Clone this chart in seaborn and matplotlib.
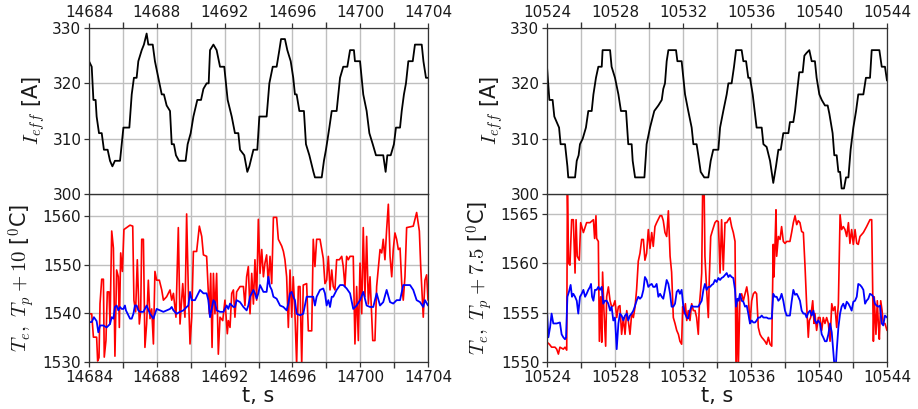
import numpy as np
import pandas as pd
import matplotlib
matplotlib.use("Agg")
import matplotlib.pyplot as plt
import matplotlib.ticker as mticker
import seaborn as sns

# ---------------- data ----------------
T0_A = 14684
T0_B = 10524

# top-left: I_eff (time offsets in s from T0_A)
ieff_a_t = [0, 0.16, 0.26, 0.39, 0.45, 0.59, 0.75, 0.88, 1.10, 1.24, 1.38, 1.53, 1.83, 2.03, 2.38, 2.52, 2.65, 2.81,
            2.91, 3.11, 3.24, 3.40, 3.50, 3.76, 3.89, 4.09, 4.29, 4.42, 4.58, 4.78, 4.88, 5.01, 5.13, 5.31, 5.70, 5.82,
            6.00, 6.16, 6.39, 6.61, 6.75, 6.94, 7.06, 7.14, 7.34, 7.53, 7.73, 7.98, 8.18, 8.42, 8.61, 8.81, 8.91, 9.16,
            9.34, 9.46, 9.70, 9.93, 10.05, 10.48, 10.64, 10.84, 11.07, 11.23, 11.33, 11.56, 11.70, 11.90, 12.05, 12.15,
            12.25, 12.41, 12.68, 12.80, 13.00, 13.24, 13.33, 13.73, 13.86, 13.98, 14.18, 14.32, 14.61, 14.81, 15.00,
            15.24, 15.40, 15.63, 15.69, 15.99, 16.18, 16.38, 16.54, 16.74, 16.93, 17.36, 17.50, 17.60, 17.80, 17.99,
            18.11, 18.35, 18.45, 18.58, 18.70, 18.84, 19.10, 19.23, 19.63, 19.73, 19.88, 20.00]
ieff_a = [324, 323, 317, 317, 314, 311, 311, 308, 308, 306, 305, 306, 306, 312, 312, 318, 321, 321, 324, 326, 327, 329,
          327, 327, 324, 321, 318, 318, 316, 315, 309, 309, 307, 306, 306, 309, 311, 314, 317, 317, 319, 320, 320, 326,
          327, 326, 323, 323, 317, 314, 311, 311, 308, 307, 304, 305, 308, 308, 314, 314, 320, 323, 323, 326, 328, 328,
          326, 324, 321, 318, 318, 315, 315, 309, 307, 304, 303, 303, 306, 308, 312, 315, 315, 321, 323, 323, 326, 326,
          324, 324, 318, 315, 311, 309, 307, 307, 304, 307, 307, 309, 312, 312, 315, 318, 320, 324, 324, 327, 327, 324,
          321, 321]

# top-right: I_eff (time offsets in s from T0_B)
ieff_b_t = [0, 0.14, 0.33, 0.43, 0.57, 0.71, 0.80, 1.06, 1.20, 1.25, 1.65, 1.75, 1.86, 1.94, 2.10, 2.29, 2.43, 2.63,
            2.73, 2.88, 3.02, 3.22, 3.27, 3.71, 3.80, 4.00, 4.20, 4.35, 4.65, 4.78, 4.98, 5.04, 5.18, 5.73, 5.86, 6.06,
            6.31, 6.55, 6.75, 6.84, 6.94, 7.04, 7.14, 7.59, 7.67, 7.92, 8.02, 8.12, 8.31, 8.51, 8.61, 8.80, 8.90, 9.04,
            9.25, 9.49, 9.63, 9.78, 10.08, 10.18, 10.37, 10.57, 10.67, 10.86, 11.00, 11.12, 11.45, 11.55, 11.71, 11.84,
            11.94, 12.10, 12.33, 12.63, 12.73, 12.92, 13.12, 13.31, 13.47, 13.61, 13.75, 13.90, 14.20, 14.29, 14.49,
            14.59, 14.73, 14.84, 15.04, 15.14, 15.27, 15.43, 15.57, 15.76, 15.86, 16.02, 16.16, 16.35, 16.51, 16.61,
            16.80, 16.90, 17.04, 17.14, 17.24, 17.33, 17.47, 17.59, 17.73, 17.86, 18.02, 18.18, 18.31, 18.61, 18.76,
            19.00, 19.10, 19.55, 19.69, 19.88, 20.00]
ieff_b = [323, 317, 317, 314, 313, 312, 309, 309, 305, 303, 303, 306, 307, 309, 310, 312, 315, 315, 318, 321, 323, 323,
          326, 326, 323, 321, 318, 315, 315, 309, 309, 306, 303, 303, 309, 312, 315, 316, 317, 319, 320, 324, 326, 326,
          324, 324, 321, 318, 315, 312, 309, 309, 307, 304, 303, 303, 306, 308, 308, 312, 315, 318, 320, 320, 323, 326,
          326, 324, 324, 321, 321, 318, 312, 312, 309, 308.5, 306, 302, 305, 308, 308, 311, 311, 313, 313, 315, 319,
          322, 322, 325, 325.5, 326, 324, 324, 321, 318, 317, 316, 316, 314.5, 311, 307, 307, 304, 304, 301, 301, 303,
          303, 308, 312, 315, 318, 318, 321, 321, 326, 326, 323, 323, 320.5]

# bottom-left: T_e (red) and T_p + 10 (blue)
te_a_t = [0, 0.16, 0.26, 0.45, 0.51, 0.59, 0.65, 0.75, 0.85, 0.90, 1.00, 1.08, 1.18, 1.24, 1.34, 1.44, 1.53, 1.63, 1.73,
          1.79, 1.87, 1.97, 2.06, 2.22, 2.42, 2.58, 2.65, 2.75, 2.85, 2.97, 3.05, 3.11, 3.21, 3.30, 3.40, 3.50, 3.60,
          3.70, 3.80, 3.89, 3.99, 4.15, 4.29, 4.39, 4.58, 4.78, 4.88, 4.98, 5.13, 5.27, 5.37, 5.53, 5.66, 5.76, 5.86,
          5.96, 6.06, 6.16, 6.35, 6.51, 6.65, 6.75, 6.94, 7.10, 7.18, 7.26, 7.34, 7.43, 7.53, 7.63, 7.73, 7.89, 8.02,
          8.16, 8.22, 8.32, 8.42, 8.52, 8.61, 8.71, 8.91, 9.01, 9.11, 9.20, 9.30, 9.40, 9.50, 9.60, 9.70, 9.79, 9.89,
          9.99, 10.09, 10.19, 10.29, 10.38, 10.48, 10.58, 10.68, 10.78, 10.88, 11.07, 11.17, 11.37, 11.47, 11.56,
          11.66, 11.76, 11.86, 11.96, 12.05, 12.15, 12.25, 12.35, 12.45, 12.55, 12.64, 12.84, 12.94, 13.14, 13.23,
          13.33, 13.43, 13.63, 13.82, 13.92, 14.02, 14.12, 14.22, 14.32, 14.41, 14.51, 14.61, 14.77, 14.91, 15.00,
          15.10, 15.20, 15.30, 15.40, 15.59, 15.69, 15.79, 15.89, 15.99, 16.09, 16.18, 16.28, 16.38, 16.48, 16.58,
          16.74, 16.87, 16.97, 17.17, 17.27, 17.36, 17.46, 17.56, 17.66, 17.76, 17.86, 17.95, 18.05, 18.15, 18.25,
          18.35, 18.45, 18.54, 18.64, 18.74, 19.13, 19.23, 19.33, 19.49, 19.57, 19.72, 19.82, 19.92, 20.00]
te_a = [1539.9, 1539.9, 1535.1, 1535.1, 1530.2, 1530.9, 1542.0, 1547.0, 1547.0, 1531.0, 1534.4, 1544.4, 1544.4, 1537.8,
        1556.9, 1553.4, 1531.2, 1548.9, 1547.5, 1537.1, 1552.4, 1548.6, 1557.2, 1557.6, 1558.1, 1557.9, 1542.7, 1540.3,
        1551.0, 1537.8, 1540.6, 1555.2, 1555.2, 1533.0, 1537.8, 1546.8, 1538.9, 1540.9, 1533.7, 1548.6, 1546.8, 1546.8,
        1544.8, 1542.7, 1543.4, 1544.8, 1542.7, 1544.1, 1539.2, 1557.6, 1537.8, 1546.1, 1539.2, 1560.4, 1544.8, 1533.7,
        1539.2, 1552.7, 1552.7, 1557.9, 1555.8, 1552.0, 1551.7, 1539.9, 1548.2, 1533.0, 1548.2, 1539.9, 1548.2, 1531.6,
        1539.2, 1538.5, 1542.7, 1535.8, 1538.5, 1537.1, 1544.1, 1544.8, 1539.2, 1544.4, 1545.5, 1545.5, 1545.5, 1541.6,
        1547.5, 1549.6, 1539.9, 1548.2, 1541.9, 1551.0, 1542.7, 1559.3, 1548.2, 1553.1, 1547.5, 1550.3, 1552.0, 1546.1,
        1551.7, 1546.1, 1559.7, 1559.7, 1555.2, 1553.8, 1552.7, 1551.0, 1547.5, 1537.1, 1548.9, 1539.2, 1547.5, 1539.9,
        1529.5, 1545.5, 1545.5, 1529.5, 1545.8, 1546.1, 1536.4, 1536.4, 1555.2, 1549.6, 1555.2, 1555.2, 1551.3, 1546.1,
        1546.8, 1551.7, 1544.8, 1548.9, 1545.5, 1544.8, 1551.0, 1551.0, 1551.7, 1549.6, 1545.5, 1551.7, 1551.0, 1551.7,
        1551.7, 1533.7, 1545.5, 1534.4, 1550.3, 1539.9, 1557.6, 1543.4, 1555.8, 1541.9, 1547.5, 1534.4, 1534.4, 1545.5,
        1553.1, 1552.4, 1555.2, 1551.0, 1557.2, 1562.4, 1551.7, 1547.5, 1553.1, 1556.5, 1555.2, 1553.1, 1553.4, 1546.1,
        1542.7, 1547.5, 1557.6, 1557.9, 1559.3, 1560.7, 1556.9, 1549.6, 1539.2, 1546.8, 1547.9, 1542.7]
tp_a_t = [0, 0.16, 0.29, 0.45, 0.55, 0.65, 0.85, 1.04, 1.24, 1.34, 1.44, 1.53, 1.63, 1.73, 1.83, 1.93, 2.03, 2.12, 2.18,
          2.32, 2.42, 2.52, 2.62, 2.71, 2.81, 2.91, 3.01, 3.21, 3.40, 3.60, 3.80, 3.99, 4.19, 4.39, 4.58, 4.78, 4.88,
          4.98, 5.17, 5.37, 5.57, 5.76, 5.86, 5.96, 6.06, 6.25, 6.35, 6.55, 6.75, 6.94, 7.04, 7.14, 7.34, 7.43, 7.53,
          7.73, 7.93, 8.12, 8.22, 8.32, 8.52, 8.61, 8.71, 8.91, 9.11, 9.30, 9.40, 9.50, 9.70, 9.79, 9.89, 9.99, 10.09,
          10.29, 10.48, 10.58, 10.68, 10.78, 10.88, 11.07, 11.27, 11.47, 11.66, 11.76, 11.86, 11.96, 12.05, 12.15,
          12.25, 12.45, 12.64, 12.84, 13.04, 13.23, 13.33, 13.43, 13.63, 13.82, 13.92, 14.02, 14.12, 14.22, 14.32,
          14.41, 14.61, 14.81, 15.00, 15.20, 15.40, 15.59, 15.79, 15.99, 16.18, 16.38, 16.58, 16.77, 16.97, 17.17,
          17.36, 17.56, 17.76, 17.95, 18.15, 18.35, 18.54, 18.74, 18.94, 19.13, 19.33, 19.53, 19.72, 19.82, 20.00]
tp_a = [1538.2, 1538.2, 1539.2, 1538.4, 1536.1, 1537.5, 1537.5, 1537.1, 1537.8, 1539.2, 1538.9, 1541.3, 1541.6, 1540.6,
        1541.3, 1540.9, 1540.9, 1541.6, 1540.6, 1539.6, 1538.9, 1538.9, 1539.9, 1541.6, 1541.6, 1540.6, 1540.3, 1540.3,
        1541.6, 1539.9, 1538.9, 1540.9, 1540.6, 1540.3, 1540.6, 1540.9, 1541.3, 1540.6, 1539.9, 1540.3, 1540.6, 1541.3,
        1541.6, 1544.4, 1542.7, 1542.7, 1543.4, 1544.8, 1544.1, 1544.1, 1542.7, 1539.2, 1542.7, 1542.3, 1540.6, 1540.3,
        1540.3, 1541.6, 1540.9, 1542.0, 1541.3, 1541.3, 1542.7, 1542.3, 1541.3, 1540.6, 1541.6, 1543.4, 1544.8, 1544.1,
        1543.0, 1544.1, 1545.8, 1544.4, 1544.4, 1547.5, 1545.5, 1544.8, 1543.4, 1543.0, 1541.6, 1541.3, 1540.6, 1542.0,
        1544.1, 1544.4, 1543.4, 1542.7, 1539.9, 1539.6, 1539.9, 1543.4, 1543.4, 1543.4, 1541.6, 1543.4, 1544.8, 1545.1,
        1544.1, 1541.6, 1542.7, 1541.3, 1543.4, 1543.4, 1544.8, 1545.8, 1545.8, 1545.1, 1544.1, 1540.9, 1541.6, 1542.7,
        1544.4, 1541.6, 1541.3, 1541.3, 1544.1, 1541.6, 1542.3, 1544.8, 1542.3, 1542.0, 1542.7, 1542.7, 1545.8, 1545.8,
        1545.8, 1544.8, 1542.7, 1542.3, 1541.3, 1542.7, 1541.6]

# bottom-right: T_e (red) and T_p + 7.5 (blue)
te_b_t = [0, 0.14, 0.27, 0.47, 0.57, 0.67, 0.76, 0.96, 1.06, 1.16, 1.20, 1.27, 1.35, 1.45, 1.55, 1.65, 1.71, 1.78, 1.90,
          1.98, 2.14, 2.33, 2.53, 2.73, 2.80, 2.88, 2.92, 3.02, 3.08, 3.16, 3.22, 3.27, 3.35, 3.45, 3.51, 3.61, 3.71,
          3.80, 3.90, 4.00, 4.10, 4.20, 4.29, 4.39, 4.49, 4.59, 4.69, 4.78, 4.88, 4.98, 5.08, 5.18, 5.27, 5.37, 5.47,
          5.57, 5.67, 5.76, 5.86, 5.96, 6.06, 6.16, 6.25, 6.35, 6.45, 6.65, 6.75, 6.84, 6.94, 7.04, 7.14, 7.24, 7.33,
          7.43, 7.53, 7.63, 7.73, 7.82, 7.92, 7.98, 8.06, 8.14, 8.22, 8.31, 8.41, 8.51, 8.61, 8.71, 8.80, 8.90, 8.96,
          9.04, 9.10, 9.16, 9.24, 9.29, 9.39, 9.49, 9.55, 9.63, 9.75, 9.88, 9.98, 10.08, 10.18, 10.27, 10.37, 10.47,
          10.57, 10.67, 10.76, 10.86, 10.96, 11.06, 11.12, 11.20, 11.25, 11.35, 11.45, 11.55, 11.65, 11.75, 11.84,
          11.94, 12.04, 12.14, 12.24, 12.33, 12.43, 12.53, 12.63, 12.73, 12.82, 12.92, 13.02, 13.12, 13.22, 13.31,
          13.35, 13.41, 13.47, 13.51, 13.61, 13.71, 13.80, 13.90, 14.00, 14.10, 14.29, 14.39, 14.49, 14.59, 14.69,
          14.78, 14.88, 14.98, 15.08, 15.18, 15.27, 15.37, 15.43, 15.51, 15.63, 15.71, 15.76, 15.86, 15.96, 16.06,
          16.16, 16.25, 16.35, 16.45, 16.55, 16.65, 16.75, 16.84, 16.94, 17.04, 17.14, 17.24, 17.33, 17.43, 17.53,
          17.63, 17.73, 17.82, 17.92, 18.02, 18.12, 18.22, 18.31, 18.41, 18.61, 18.80, 19.00, 19.10, 19.20, 19.25,
          19.35, 19.43, 19.49, 19.55, 19.63, 19.71, 19.78, 19.88, 20.00]
te_b = [1552.0, 1551.8, 1551.5, 1551.5, 1551.3, 1550.8, 1551.5, 1551.3, 1551.5, 1551.2, 1568.0, 1560.0, 1559.8, 1564.4,
        1564.4, 1559.0, 1564.4, 1560.7, 1560.3, 1564.1, 1563.1, 1564.1, 1564.1, 1564.4, 1562.5, 1564.8, 1562.5, 1562.2,
        1552.1, 1556.6, 1552.0, 1559.1, 1555.2, 1551.6, 1556.6, 1557.6, 1556.2, 1555.6, 1555.7, 1556.2, 1554.5, 1555.6,
        1555.7, 1552.8, 1554.5, 1552.8, 1555.2, 1554.2, 1552.8, 1554.9, 1554.5, 1555.6, 1557.3, 1560.2, 1561.0, 1562.4,
        1562.4, 1560.3, 1561.0, 1563.4, 1561.5, 1563.1, 1561.7, 1563.7, 1564.1, 1564.8, 1564.8, 1564.3, 1563.1, 1562.7,
        1565.3, 1560.7, 1559.1, 1554.5, 1553.9, 1553.2, 1552.8, 1552.1, 1551.8, 1555.6, 1554.9, 1555.9, 1554.2, 1555.2,
        1554.2, 1555.9, 1555.2, 1555.2, 1554.5, 1552.8, 1555.7, 1557.3, 1559.0, 1568.0, 1568.0, 1560.7, 1557.3, 1554.5,
        1558.6, 1562.7, 1563.4, 1564.1, 1564.3, 1564.2, 1559.0, 1564.4, 1559.3, 1564.1, 1564.1, 1564.4, 1564.6, 1563.7,
        1563.1, 1562.2, 1549.1, 1556.2, 1549.1, 1556.6, 1556.9, 1556.2, 1556.9, 1557.6, 1556.6, 1553.9, 1556.2, 1556.9,
        1557.1, 1556.9, 1553.5, 1552.8, 1552.5, 1552.3, 1552.1, 1551.8, 1552.5, 1551.8, 1551.6, 1561.9, 1558.6, 1561.7,
        1565.4, 1560.7, 1562.7, 1562.4, 1563.7, 1562.2, 1562.0, 1562.2, 1562.2, 1563.1, 1564.1, 1564.8, 1563.9, 1564.3,
        1564.1, 1563.2, 1563.1, 1559.6, 1555.9, 1552.5, 1554.2, 1554.5, 1556.2, 1553.9, 1554.9, 1553.2, 1554.5, 1554.5,
        1553.2, 1554.5, 1553.9, 1554.5, 1553.9, 1552.1, 1555.9, 1555.2, 1555.6, 1553.5, 1555.9, 1564.9, 1563.4, 1563.7,
        1563.4, 1562.7, 1564.1, 1562.0, 1563.4, 1561.9, 1563.4, 1562.0, 1561.9, 1562.7, 1563.1, 1563.7, 1564.4, 1564.4,
        1552.1, 1556.6, 1552.8, 1556.2, 1553.9, 1552.3, 1556.2, 1555.2, 1553.9, 1553.9, 1553.2]
tp_b_t = [0, 0.08, 0.18, 0.27, 0.37, 0.47, 0.57, 0.76, 0.86, 0.96, 1.06, 1.12, 1.20, 1.29, 1.39, 1.47, 1.55, 1.65, 1.75,
          1.84, 1.94, 2.04, 2.14, 2.24, 2.33, 2.43, 2.53, 2.59, 2.65, 2.73, 2.82, 2.92, 3.02, 3.12, 3.22, 3.31, 3.41,
          3.51, 3.61, 3.71, 3.80, 3.90, 4.00, 4.10, 4.20, 4.29, 4.39, 4.49, 4.59, 4.69, 4.78, 4.88, 4.98, 5.08, 5.18,
          5.27, 5.37, 5.47, 5.57, 5.67, 5.76, 5.86, 5.96, 6.06, 6.16, 6.25, 6.35, 6.45, 6.55, 6.65, 6.75, 6.84, 6.94,
          7.04, 7.14, 7.24, 7.33, 7.43, 7.53, 7.63, 7.73, 7.82, 7.92, 8.02, 8.12, 8.22, 8.31, 8.41, 8.51, 8.61, 8.71,
          8.80, 8.90, 9.00, 9.10, 9.20, 9.29, 9.39, 9.49, 9.59, 9.69, 9.78, 9.88, 9.98, 10.08, 10.18, 10.27, 10.37,
          10.47, 10.57, 10.67, 10.76, 10.86, 10.96, 11.06, 11.12, 11.20, 11.27, 11.35, 11.45, 11.55, 11.65, 11.75,
          11.84, 11.94, 12.04, 12.14, 12.24, 12.33, 12.43, 12.53, 12.63, 12.73, 12.82, 12.92, 13.02, 13.12, 13.22,
          13.31, 13.41, 13.51, 13.61, 13.71, 13.80, 13.90, 14.00, 14.10, 14.20, 14.29, 14.39, 14.49, 14.59, 14.69,
          14.78, 14.88, 14.98, 15.08, 15.18, 15.27, 15.37, 15.47, 15.57, 15.67, 15.76, 15.86, 15.96, 16.06, 16.16,
          16.25, 16.35, 16.45, 16.55, 16.65, 16.75, 16.84, 16.90, 16.98, 17.04, 17.14, 17.24, 17.33, 17.43, 17.53,
          17.63, 17.73, 17.82, 17.92, 18.02, 18.12, 18.22, 18.31, 18.41, 18.51, 18.61, 18.71, 18.80, 18.90, 19.00,
          19.10, 19.20, 19.29, 19.39, 19.49, 19.59, 19.69, 19.78, 19.88, 20.00]
tp_b = [1555.2, 1552.5, 1553.5, 1554.9, 1553.9, 1553.9, 1553.9, 1554.0, 1552.8, 1552.5, 1552.3, 1552.5, 1556.6, 1557.1,
        1557.8, 1556.6, 1556.9, 1556.6, 1556.2, 1554.9, 1556.6, 1556.9, 1557.3, 1556.6, 1556.9, 1557.3, 1557.6, 1557.9,
        1556.6, 1556.2, 1557.3, 1557.3, 1557.6, 1557.3, 1557.6, 1555.9, 1556.2, 1556.2, 1555.9, 1555.2, 1555.6, 1554.2,
        1554.5, 1551.3, 1553.9, 1554.9, 1554.7, 1554.2, 1554.7, 1554.9, 1554.2, 1554.7, 1554.9, 1555.2, 1555.7, 1556.2,
        1556.6, 1556.4, 1556.6, 1557.3, 1558.6, 1558.3, 1557.6, 1557.8, 1557.9, 1557.6, 1557.6, 1557.9, 1556.6, 1556.9,
        1556.6, 1556.4, 1557.3, 1558.3, 1557.9, 1556.9, 1555.6, 1555.6, 1555.9, 1557.1, 1557.3, 1556.9, 1557.3, 1555.6,
        1554.9, 1554.5, 1554.4, 1555.2, 1555.7, 1555.6, 1555.6, 1555.6, 1555.6, 1555.9, 1556.2, 1557.3, 1557.9, 1557.3,
        1557.6, 1557.6, 1557.8, 1557.9, 1558.3, 1558.1, 1558.5, 1558.3, 1558.5, 1558.6, 1558.8, 1559.0, 1558.6, 1558.8,
        1558.6, 1558.5, 1557.3, 1555.6, 1556.4, 1556.2, 1556.9, 1556.2, 1556.1, 1555.6, 1555.7, 1554.9, 1553.9, 1554.2,
        1554.0, 1554.0, 1554.2, 1554.5, 1554.5, 1554.7, 1554.5, 1554.5, 1554.5, 1554.4, 1554.4, 1554.4, 1556.9, 1556.6,
        1556.6, 1556.2, 1556.4, 1556.9, 1556.2, 1555.2, 1554.7, 1554.7, 1554.7, 1556.1, 1557.3, 1556.8, 1556.9, 1556.6,
        1556.2, 1555.2, 1554.9, 1554.9, 1554.5, 1555.0, 1555.2, 1554.7, 1555.2, 1554.2, 1553.9, 1554.2, 1553.9, 1552.8,
        1552.5, 1552.1, 1552.1, 1552.8, 1553.9, 1553.0, 1551.1, 1549.8, 1549.4, 1551.1, 1553.5, 1554.9, 1555.6, 1555.9,
        1555.4, 1556.1, 1555.9, 1555.6, 1555.2, 1556.1, 1556.2, 1556.6, 1557.9, 1557.8, 1557.6, 1557.3, 1555.9, 1556.2,
        1556.4, 1556.9, 1556.8, 1556.6, 1555.9, 1555.7, 1555.6, 1555.7, 1553.9, 1553.7, 1554.7, 1554.5]

xticks_a = [14684, 14688, 14692, 14696, 14700, 14704]
xticks_b = [10524, 10528, 10532, 10536, 10540, 10544]
xgrid_a = [14686, 14690, 14694, 14698, 14702]
xgrid_b = [10526, 10530, 10534, 10538, 10542]
yticks_top = [300, 310, 320, 330]
yticks_bot_a = [1530, 1540, 1550, 1560]
yticks_bot_b = [1550, 1555, 1560, 1565]
ylabel_top = r'$I_{eff}$ [A]'
ylabel_bot_a = r'$T_e,\ T_p+10$ [$^0$C]'
ylabel_bot_b = r'$T_e,\ T_p+7.5$ [$^0$C]'
xlabel = 't, s'

GRID_C = '0.75'
GRID_W = 1.0

# ---------------- style ----------------
sns.set_theme(style="whitegrid", rc={
    "axes.edgecolor": "0.2",
    "axes.linewidth": 0.9,
    "grid.color": GRID_C,
    "grid.linewidth": GRID_W,
    "xtick.bottom": True,
    "ytick.left": True,
    "xtick.color": "0.2",
    "ytick.color": "0.2",
    "xtick.major.size": 3.5,
    "ytick.major.size": 3.5,
    "xtick.major.width": 0.9,
    "ytick.major.width": 0.9,
    "xtick.labelsize": 11,
    "ytick.labelsize": 11,
    "text.color": "0.1",
    "axes.labelcolor": "0.1",
    "mathtext.fontset": "cm",
})
plt.rcParams['font.family'] = ['DejaVu Sans']

fig = plt.figure(figsize=(9.18, 4.09), dpi=100)
W, H = 918.0, 409.0
cols = [(89, 339), (547, 340)]


def make_col(x0, w, t0, it, iv, tet, tev, tpt, tpv, xticks, xgrid, ybot, yticks_bot, ylab_bot):
    ax_b = fig.add_axes([x0 / W, 1 - 362 / H, w / W, 168 / H])
    ax_t = fig.add_axes([x0 / W, 1 - 194 / H, w / W, 166 / H])

    d_top = pd.DataFrame({"t": t0 + np.asarray(it), "I": iv})
    sns.lineplot(data=d_top, x="t", y="I", color="black", linewidth=1.3,
                 estimator=None, sort=False, ax=ax_t)
    d_te = pd.DataFrame({"t": t0 + np.asarray(tet), "T": tev})
    d_tp = pd.DataFrame({"t": t0 + np.asarray(tpt), "T": tpv})
    sns.lineplot(data=d_te, x="t", y="T", color="#ff0000", linewidth=1.2,
                 estimator=None, sort=False, ax=ax_b)
    sns.lineplot(data=d_tp, x="t", y="T", color="#0000ff", linewidth=1.3,
                 estimator=None, sort=False, ax=ax_b)

    for ax in (ax_t, ax_b):
        ax.set_xlim(xticks[0], xticks[-1])
        ax.set_xticks(xticks)
        ax.set_xticks(xgrid, minor=True)
        ax.xaxis.grid(True, which='minor', color=GRID_C, linewidth=GRID_W)
        ax.xaxis.set_major_formatter(mticker.FormatStrFormatter('%d'))
        ax.yaxis.set_major_formatter(mticker.FormatStrFormatter('%d'))
        ax.tick_params(axis='both', which='major', pad=2, labelcolor='0.1')

    ax_t.set_ylim(300, 330)
    ax_t.set_yticks(yticks_top)
    ax_t.xaxis.tick_top()
    ax_t.set_xlabel("")
    ax_t.set_ylabel(ylabel_top, fontsize=15)

    ax_b.set_ylim(*ybot)
    ax_b.set_yticks(yticks_bot)
    ax_b.set_xlabel(xlabel, fontsize=15, labelpad=1)
    ax_b.set_ylabel(ylab_bot, fontsize=15)
    return ax_t, ax_b


make_col(cols[0][0], cols[0][1], T0_A, ieff_a_t, ieff_a, te_a_t, te_a, tp_a_t, tp_a,
         xticks_a, xgrid_a, (1530, 1564.5), yticks_bot_a, ylabel_bot_a)
make_col(cols[1][0], cols[1][1], T0_B, ieff_b_t, ieff_b, te_b_t, te_b, tp_b_t, tp_b,
         xticks_b, xgrid_b, (1550, 1567), yticks_bot_b, ylabel_bot_b)

fig.savefig("out.png", dpi=100)
